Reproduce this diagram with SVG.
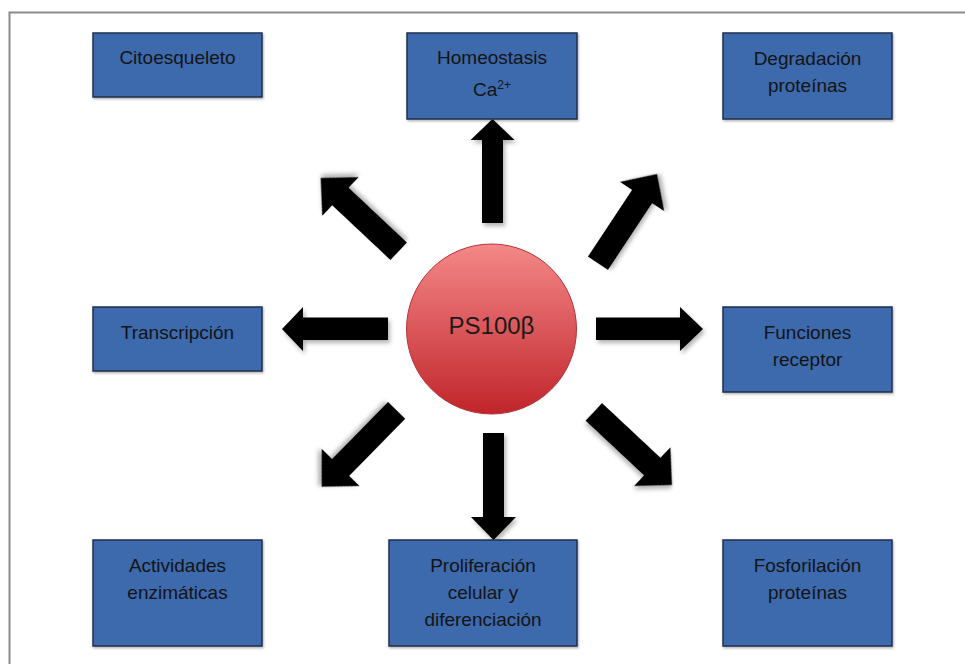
<svg xmlns="http://www.w3.org/2000/svg" width="965" height="664" viewBox="0 0 965 664">
<defs>
<style>
.box{fill:#3e69ad;stroke:#1f2f4d;stroke-width:1.5;filter:url(#bsh)}
.lbl{font-family:"Liberation Sans",Arial,sans-serif;font-size:19px;fill:#141414;text-anchor:middle}
.arr{fill:#000;filter:url(#ash)}
</style>
<linearGradient id="cg" x1="0" y1="0" x2="0" y2="1">
<stop offset="0" stop-color="#f48888"/>
<stop offset="1" stop-color="#c0252b"/>
</linearGradient>
<filter id="ash" x="-30%" y="-30%" width="160%" height="160%">
<feDropShadow dx="2" dy="3" stdDeviation="2" flood-color="#000" flood-opacity="0.3"/>
</filter>
<filter id="bsh" x="-10%" y="-10%" width="120%" height="130%">
<feDropShadow dx="1" dy="1.5" stdDeviation="1" flood-color="#000" flood-opacity="0.3"/>
</filter>
<path id="darr" d="M0,0 L-27,-26.5 L-27,-12 L-107,-12 L-107,12 L-27,12 L-27,26.5 Z"/>
</defs>
<rect width="965" height="664" fill="#fff"/>
<rect x="9.5" y="12.5" width="980" height="680" fill="none" stroke="#8a8a8a" stroke-width="2"/>

<g id="connectors">
<path class="arr" d="M492.5,119 L514.5,140 L503,140 L503,223 L482,223 L482,140 L470.5,140 Z"/>
<path class="arr" d="M493.5,540 L516,517 L504,517 L504,433 L483,433 L483,517 L471,517 Z"/>
<path class="arr" d="M282,329 L303,307 L303,317.5 L388,317.5 L388,340 L303,340 L303,351 Z"/>
<path class="arr" d="M703,329 L680,307 L680,317.5 L596,317.5 L596,340 L680,340 L680,351 Z"/>
<use class="arr" href="#darr" transform="translate(320.7,178) rotate(-136.8)"/>
<use class="arr" href="#darr" transform="translate(657,174) rotate(-56.5)"/>
<use class="arr" href="#darr" transform="translate(321.7,486.7) rotate(134.5)"/>
<use class="arr" href="#darr" transform="translate(672,485) rotate(43.1)"/>
</g>

<g id="center">
<circle cx="491.5" cy="329" r="85" fill="url(#cg)" stroke="#b53238" stroke-width="1"/>
<text x="491.5" y="334" style="font-family:'Liberation Sans',Arial,sans-serif;font-size:24px;fill:#1a1a1a;text-anchor:middle">PS100β</text>
</g>

<g id="citoesqueleto">
<rect class="box" x="93" y="33" width="169" height="64"/>
<text class="lbl" x="177.5" y="64">Citoesqueleto</text>
</g>
<g id="homeostasis">
<rect class="box" x="407" y="33" width="170" height="86"/>
<text class="lbl" x="492" y="64">Homeostasis</text>
<text class="lbl" x="492" y="96">Ca<tspan font-size="12" dy="-7">2+</tspan></text>
</g>
<g id="degradacion">
<rect class="box" x="723" y="33" width="169" height="86"/>
<text class="lbl" x="807.5" y="65">Degradación</text>
<text class="lbl" x="807.5" y="92">proteínas</text>
</g>
<g id="transcripcion">
<rect class="box" x="93" y="307" width="169" height="64"/>
<text class="lbl" x="177.5" y="339">Transcripción</text>
</g>
<g id="funciones">
<rect class="box" x="723" y="307" width="169" height="85"/>
<text class="lbl" x="807.5" y="339">Funciones</text>
<text class="lbl" x="807.5" y="366">receptor</text>
</g>
<g id="actividades">
<rect class="box" x="93" y="540" width="169" height="106"/>
<text class="lbl" x="177.5" y="572">Actividades</text>
<text class="lbl" x="177.5" y="599">enzimáticas</text>
</g>
<g id="proliferacion">
<rect class="box" x="389" y="540" width="188" height="106"/>
<text class="lbl" x="483" y="572">Proliferación</text>
<text class="lbl" x="483" y="599">celular y</text>
<text class="lbl" x="483" y="626">diferenciación</text>
</g>
<g id="fosforilacion">
<rect class="box" x="723" y="540" width="169" height="106"/>
<text class="lbl" x="807.5" y="572">Fosforilación</text>
<text class="lbl" x="807.5" y="599">proteínas</text>
</g>
</svg>
